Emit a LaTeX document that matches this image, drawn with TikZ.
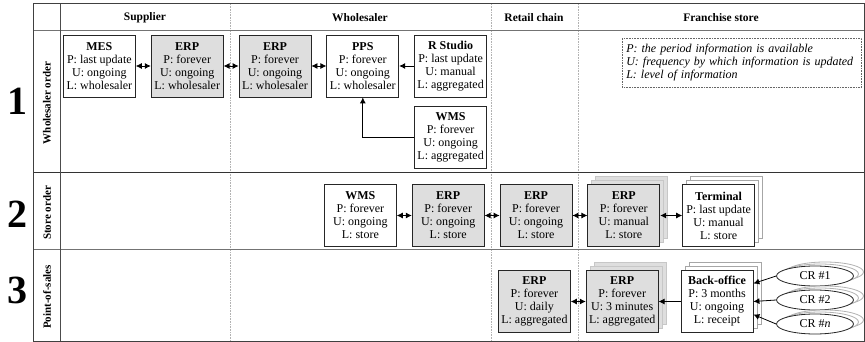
\documentclass[tikz,border=0pt]{standalone}
\usepackage{fontspec}
\setmainfont{Liberation Serif}
\usepackage{tikz}
\usetikzlibrary{positioning, arrows.meta, shadows, shapes.geometric}
\tikzset{InfoBox/.style={%
    shape=rectangle,%
    draw=black!85,%
    fill=white,%
    line width=0.8pt,%
    minimum width=72pt,%
    minimum height=62pt,%
    inner sep=1pt,%
    align=center,%
    font=\fontsize{12}{13}\selectfont,%
}}
\tikzset{ErpBox/.style={%
    InfoBox,%
    fill=black!13,%
}}
\tikzset{StackWhite/.style={%
    copy shadow={shadow xshift=8pt, shadow yshift=8pt, draw=black!35, fill=white},%
    copy shadow={shadow xshift=4pt, shadow yshift=4pt, draw=black!35, fill=white},%
}}
\tikzset{StackGrey/.style={%
    copy shadow={shadow xshift=8pt, shadow yshift=8pt, draw=black!22, fill=black!13},%
    copy shadow={shadow xshift=4pt, shadow yshift=4pt, draw=black!22, fill=black!13},%
}}
\tikzset{CashReg/.style={%
    shape=ellipse,%
    draw=black!85,%
    fill=white,%
    line width=0.8pt,%
    minimum width=77pt,%
    minimum height=20pt,%
    inner sep=0pt,%
    font=\fontsize{12}{13}\selectfont,%
    copy shadow={shadow xshift=10pt, shadow yshift=4pt, draw=black!30, fill=white},%
    copy shadow={shadow xshift=5pt, shadow yshift=2pt, draw=black!30, fill=white},%
}}
\tikzset{ColHead/.style={%
    font=\bfseries\fontsize{11.5}{13}\selectfont,%
}}
\tikzset{RowHead/.style={%
    rotate=90,%
    font=\bfseries\fontsize{11}{13}\selectfont,%
}}
\tikzset{RowNum/.style={%
    font=\bfseries\fontsize{40}{40}\selectfont,%
}}
\tikzset{Legend/.style={%
    draw=black!60,%
    densely dotted,%
    line width=0.6pt,%
    text width=231pt,%
    minimum height=49pt,%
    inner sep=4pt,%
    align=left,%
    font=\itshape\fontsize{12}{13}\selectfont,%
}}
\tikzset{BothEdge/.style={%
    {Latex[length=6pt,width=6pt]}-{Latex[length=6pt,width=6pt]},%
    line width=0.8pt,%
}}
\tikzset{OneEdge/.style={%
    -{Latex[length=6pt,width=6pt]},%
    line width=0.8pt,%
}}
\NewDocumentCommand{\sysLabel}{m m m m}{%
    \textbf{#1}\\P: #2\\U: #3\\L: #4%
}

\begin{document}
\begin{tikzpicture}[x=1pt, y=-1pt]
    \useasboundingbox (0,0) rectangle (865,342);
    % grid of the table
    \foreach \cx in {230, 491, 578} {
        \draw[black!30, densely dotted, line width=0.6pt] (\cx,4) -- (\cx,341);
    }
    \draw[black!55, line width=1pt] (33,31) -- (864,31);
    \draw[black!80, line width=0.8pt] (33,172) -- (864,172);
    \draw[black!55, line width=1pt] (33,249) -- (864,249);
    \draw[black!70, line width=1pt] (60,4) -- (60,341);
    \draw[black!75, line width=1pt] (33,4) rectangle (864,341);

    \node[ColHead] (hsup) at (145,18) {Supplier};
    \node[ColHead] (hwhs) at (360,18) {Wholesaler};
    \node[ColHead] (hret) at (534,18) {Retail chain};
    \node[ColHead] (hfra) at (721,18) {Franchise store};

    \node[RowNum] (n1) at (17,101) {1};
    \node[RowNum] (n2) at (17,214) {2};
    \node[RowNum] (n3) at (17,290) {3};
    \node[RowHead] (r1) at (47,103) {Wholesaler order};
    \node[RowHead] (r2) at (47,213) {Store order};
    \node[RowHead] (r3) at (47,297) {Point-of-sales};

    % row 1
    \node[InfoBox, anchor=west] (mes) at (63,66) {\sysLabel{MES}{last update}{ongoing}{wholesaler}};
    \node[ErpBox, right=15pt of mes] (erp11) {\sysLabel{ERP}{forever}{ongoing}{wholesaler}};
    \node[ErpBox, right=15pt of erp11] (erp12) {\sysLabel{ERP}{forever}{ongoing}{wholesaler}};
    \node[InfoBox, right=15pt of erp12] (pps) {\sysLabel{PPS}{forever}{ongoing}{wholesaler}};
    \node[InfoBox, right=15pt of pps] (rst) {\sysLabel{R Studio}{last update}{manual}{aggregated}};
    \node[InfoBox, below=9pt of rst] (wms1) {\sysLabel{WMS}{forever}{ongoing}{aggregated}};
    \node[Legend, anchor=north west] (legend) at (622,38) {P: the period information is available\\U: frequency by which information is updated\\L: level of information};

    % row 2
    \node[InfoBox, anchor=west] (wms2) at (324,215.5) {\sysLabel{WMS}{forever}{ongoing}{store}};
    \node[ErpBox, right=15pt of wms2] (erp21) {\sysLabel{ERP}{forever}{ongoing}{store}};
    \node[ErpBox, right=15pt of erp21] (erp22) {\sysLabel{ERP}{forever}{ongoing}{store}};
    \node[ErpBox, StackGrey, right=15pt of erp22] (erp23) {\sysLabel{ERP}{forever}{manual}{store}};
    \node[InfoBox, StackWhite, right=22pt of erp23] (term) {\sysLabel{Terminal}{last update}{manual}{store}};

    % row 3
    \node[ErpBox, anchor=west] (erp31) at (498,301.5) {\sysLabel{ERP}{forever}{daily}{aggregated}};
    \node[ErpBox, StackGrey, right=15pt of erp31] (erp32) {\sysLabel{ERP}{forever}{3 minutes}{aggregated}};
    \node[InfoBox, StackWhite, right=22pt of erp32] (bo) {\sysLabel{Back-office}{3 months}{ongoing}{receipt}};
    \node[CashReg] (cr1) at (815,276) {CR \#1};
    \node[CashReg] (cr2) at (815,300) {CR \#2};
    \node[CashReg] (crn) at (815,324) {CR \#\textit{n}};

    \path (mes) edge[BothEdge] (erp11);
    \path (erp11) edge[BothEdge] (erp12);
    \path (erp12) edge[BothEdge] (pps);
    \path (rst) edge[OneEdge] (pps);
    \draw[OneEdge] (wms1.west) -| (pps.south);
    \path (wms2) edge[BothEdge] (erp21);
    \path (erp21) edge[BothEdge] (erp22);
    \path (erp22) edge[BothEdge] (erp23);
    \path (erp23) edge[BothEdge] (term);
    \path (erp31) edge[BothEdge] (erp32);
    \path (bo) edge[OneEdge] (erp32);
    \path (cr1.west) edge[OneEdge] ([yshift=18pt]bo.east);
    \path (cr2.west) edge[OneEdge] (bo.east);
    \path (crn.west) edge[OneEdge] ([yshift=-13pt]bo.east);
\end{tikzpicture}
\end{document}
